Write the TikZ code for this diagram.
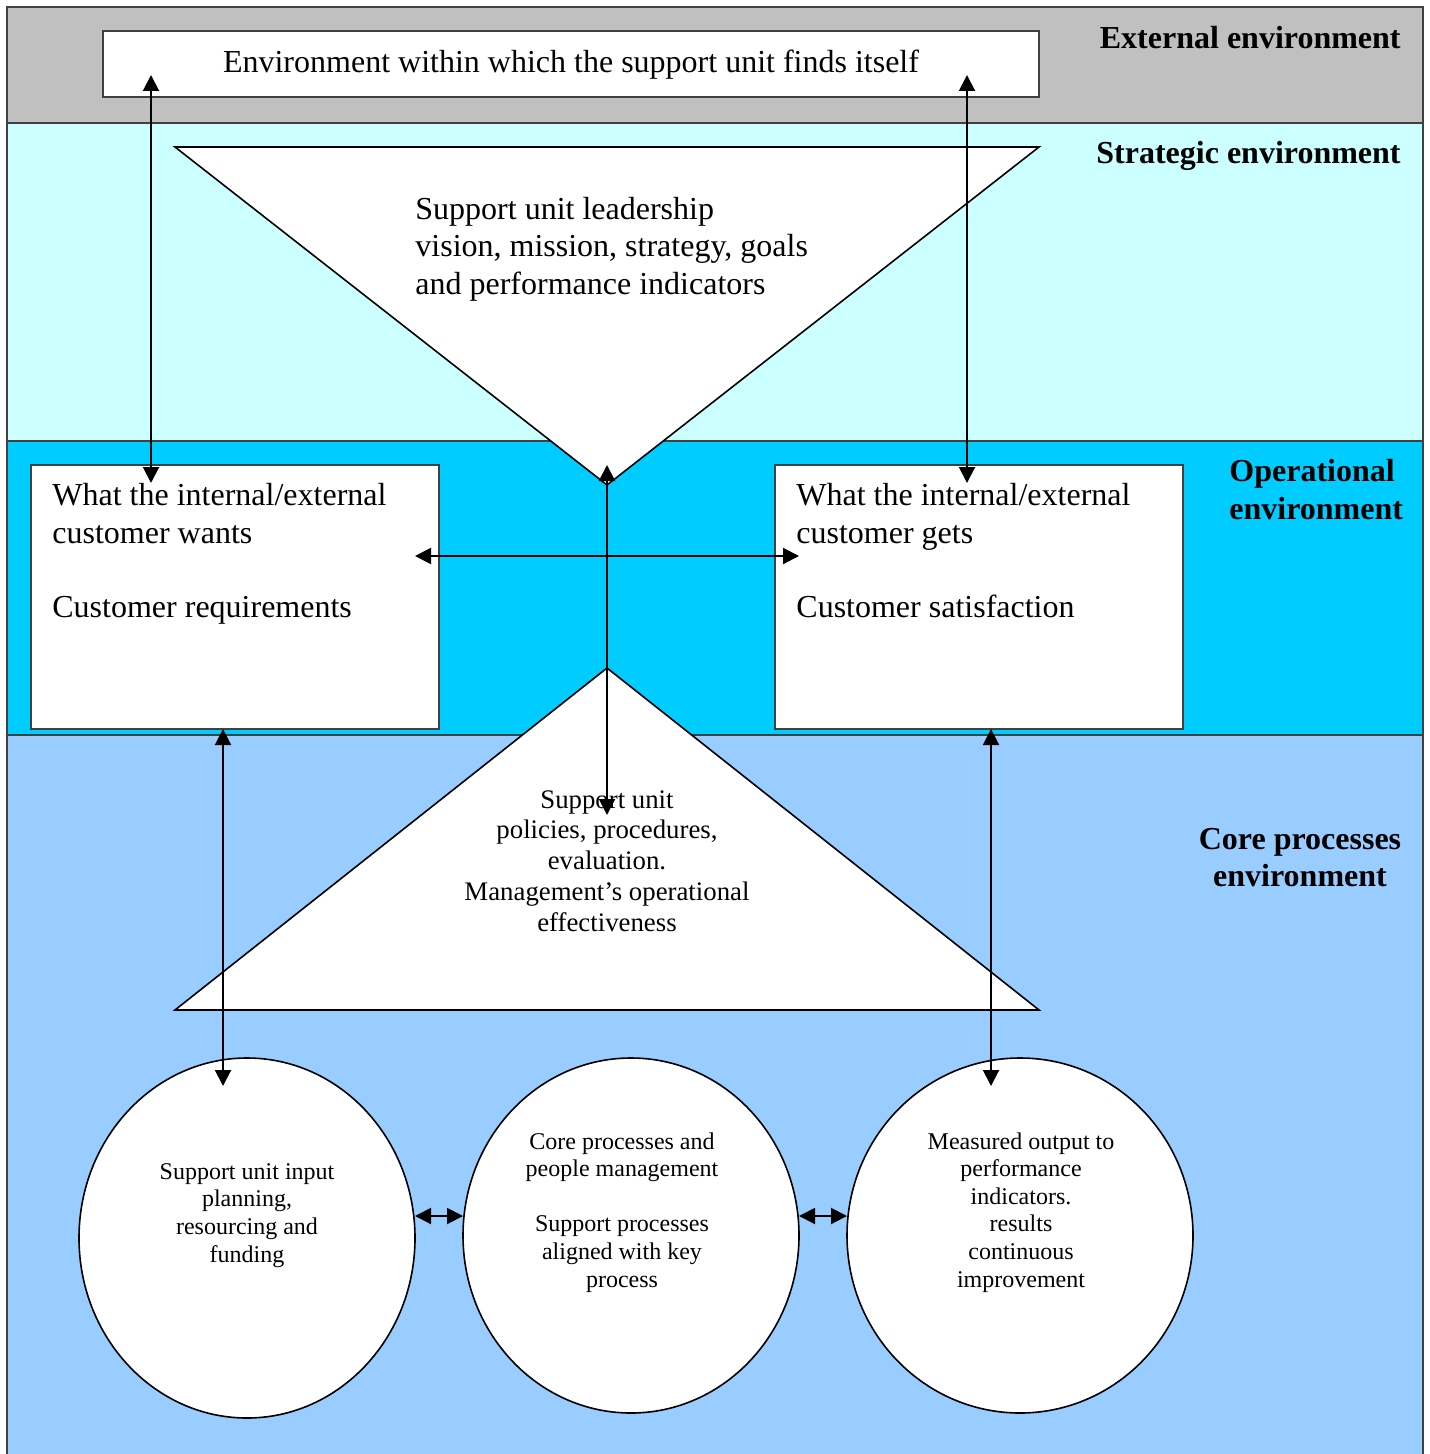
\documentclass[tikz,border=0pt]{standalone}
\usepackage{fontspec}
\setmainfont{Liberation Serif}
\usetikzlibrary{arrows.meta,shapes.geometric}
\definecolor{extgray}{HTML}{C0C0C0}
\definecolor{stratcyan}{HTML}{CCFFFF}
\definecolor{opblue}{HTML}{00CCFF}
\definecolor{coreblue}{HTML}{99CCFF}
\definecolor{bandline}{HTML}{404040}
\begin{document}
\begin{tikzpicture}[x=0.5pt,y=-0.5pt,
  bandedge/.style={draw=bandline, line width=0.7pt},
  whitebox/.style={draw=bandline, fill=white, line width=0.7pt},
  shapeline/.style={draw=black, fill=white, line width=0.8pt},
  link/.style={line width=1pt, {Triangle[length=8pt,width=8pt]}-{Triangle[length=8pt,width=8pt]}},
  bigtext/.style={font=\fontsize{16}{18.7}\selectfont},
  midtext/.style={font=\fontsize{13.4}{15.4}\selectfont},
  smalltext/.style={font=\fontsize{12}{13.8}\selectfont},
  bandlabel/.style={font=\fontsize{16}{18.7}\selectfont\bfseries, inner sep=0pt},
  roundproc/.style={ellipse, draw=black, fill=white, line width=0.8pt, inner sep=0pt}
]
\useasboundingbox (0,0) rectangle (1429,1454);
\fill[white] (0,0) rectangle (1429,1454);

% environment bands
\fill[extgray] (7,7) rectangle (1423,123);
\fill[stratcyan] (7,123) rectangle (1423,441);
\fill[opblue] (7,441) rectangle (1423,735);
\fill[coreblue] (7,735) rectangle (1423,1454);
\draw[bandedge] (7,1454) -- (7,7) -- (1423,7) -- (1423,1454);
\draw[bandedge] (7,123) -- (1423,123);
\draw[bandedge] (7,441) -- (1423,441);
\draw[bandedge] (7,735) -- (1423,735);

% band labels
\node[bandlabel, anchor=base east] (extlbl) at (1401,49) {External environment};
\node[bandlabel, anchor=base east] (stratlbl) at (1401,164) {Strategic environment};
\node[bandlabel, anchor=north west, align=left] (oplbl) at (1229,459) {Operational\\environment};
\node[bandlabel, anchor=north, align=center] (corelbl) at (1300,828) {Core processes\\environment};

% outer environment box
\draw[whitebox] (103,31) rectangle (1039,97);
\node[bigtext, anchor=base] (envtxt) at (571,73) {Environment within which the support unit finds itself};

% strategic (inverted) triangle
\draw[shapeline] (175,147) -- (1039,147) -- (607,485) -- cycle;
\node[bigtext, anchor=north west, align=left, inner sep=0pt] (leadtxt) at (415,197)
  {Support unit leadership\\vision, mission, strategy, goals\\and performance indicators};

% operational boxes
\draw[whitebox] (31,465) rectangle (439,729);
\node[bigtext, anchor=north west, align=left, inner sep=0pt] (wantstxt) at (52,483)
  {What the internal/external\\customer wants\\[18.7pt]Customer requirements};
\draw[whitebox] (775,465) rectangle (1183,729);
\node[bigtext, anchor=north west, align=left, inner sep=0pt] (getstxt) at (796,483)
  {What the internal/external\\customer gets\\[18.7pt]Customer satisfaction};

% core (upright) triangle
\draw[shapeline] (607,668) -- (1039,1010) -- (175,1010) -- cycle;
\node[midtext, anchor=north, align=center, inner sep=0pt] (policytxt) at (607,790)
  {Support unit\\policies, procedures,\\evaluation.\\Management's operational\\effectiveness};

% core process circles
\node[roundproc, minimum width=168pt, minimum height=180pt] (inputc) at (247,1238) {};
\node[smalltext, anchor=north, align=center, inner sep=0pt] (inputtxt) at (247,1163)
  {Support unit input\\planning,\\resourcing and\\funding};
\node[roundproc, minimum width=168pt, minimum height=177.5pt] (corec) at (631,1235.5) {};
\node[smalltext, anchor=north, align=center, inner sep=0pt] (coretxt) at (622,1132)
  {Core processes and\\people management\\[13.8pt]Support processes\\aligned with key\\process};
\node[roundproc, minimum width=173pt, minimum height=177.5pt] (outc) at (1020,1235.5) {};
\node[smalltext, anchor=north, align=center, inner sep=0pt] (outtxt) at (1021,1132)
  {Measured output to\\performance\\indicators.\\results\\continuous\\improvement};

% connector end points
\coordinate (envL) at (151,75);
\coordinate (wantsT) at (151,483);
\coordinate (envR) at (967,75);
\coordinate (getsT) at (967,483);
\coordinate (apexTop) at (607,465);
\coordinate (apexBot) at (607,815);
\coordinate (wantsR) at (415,556);
\coordinate (getsL) at (799,556);
\coordinate (wantsB) at (223,729);
\coordinate (inputT) at (223,1086);
\coordinate (getsB) at (991,729);
\coordinate (outT) at (991,1086);
\coordinate (inputE) at (415,1216);
\coordinate (coreW) at (463,1216);
\coordinate (coreE) at (799,1216);
\coordinate (outW) at (847,1216);

% connectors
\draw[link] (envL) -- (wantsT);
\draw[link] (envR) -- (getsT);
\draw[link] (apexTop) -- (apexBot);
\draw[link] (wantsR) -- (getsL);
\draw[link] (wantsB) -- (inputT);
\draw[link] (getsB) -- (outT);
\draw[link] (inputE) -- (coreW);
\draw[link] (coreE) -- (outW);
\end{tikzpicture}
\end{document}
